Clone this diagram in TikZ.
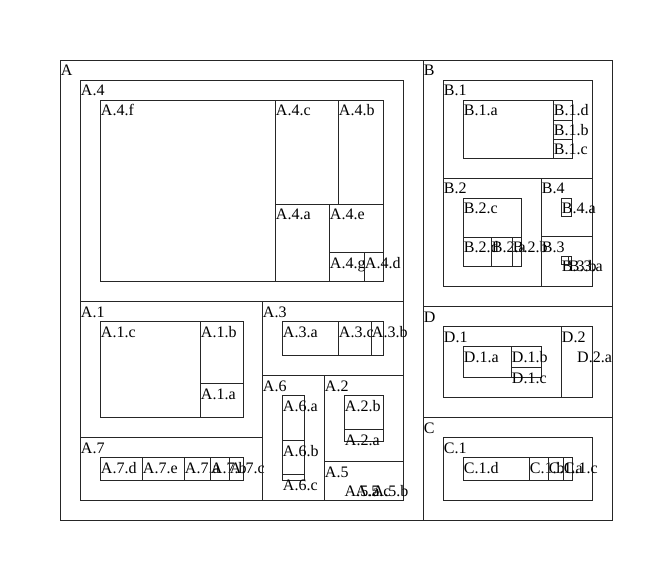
\documentclass[tikz,border=0pt]{standalone}
\usepackage{fontspec}
\setmainfont{Liberation Serif}
\usepackage{tikz}

\begin{document}
\begin{tikzpicture}[
        x=1pt, y=-1pt,
        cell/.style={draw=black!85, line width=0.9pt},
        lbl/.style={anchor=base west, inner sep=0pt, xshift=0.5pt, yshift=-16pt, font=\fontsize{16}{19}\selectfont}
      ]
      \useasboundingbox (0,0) rectangle (672,580);

      % top level
      \draw[cell] (60,60) node[lbl] (A) {A} rectangle (423,520);
      \draw[cell] (423,60) node[lbl] (B) {B} rectangle (612,306);
      \draw[cell] (423,306) node[lbl] (D) {D} rectangle (612,417);
      \draw[cell] (423,417) node[lbl] (C) {C} rectangle (612,520);

      % A.4
      \draw[cell] (80,80) node[lbl] (A4) {A.4} rectangle (403,301);
      \draw[cell] (100,100) node[lbl] (A4f) {A.4.f} rectangle (275,281);
      \draw[cell] (275,100) node[lbl] (A4c) {A.4.c} rectangle (338,204);
      \draw[cell] (338,100) node[lbl] (A4b) {A.4.b} rectangle (383,204);
      \draw[cell] (275,204) node[lbl] (A4a) {A.4.a} rectangle (329,281);
      \draw[cell] (329,204) node[lbl] (A4e) {A.4.e} rectangle (383,252);
      \draw[cell] (329,252) node[lbl] (A4g) {A.4.g} rectangle (364,281);
      \draw[cell] (364,252) node[lbl] (A4d) {A.4.d} rectangle (383,281);

      % A.1 and A.7
      \draw[cell] (80,301) node[lbl] (A1) {A.1} rectangle (262,437);
      \draw[cell] (100,321) node[lbl] (A1c) {A.1.c} rectangle (200,417);
      \draw[cell] (200,321) node[lbl] (A1b) {A.1.b} rectangle (243,383);
      \draw[cell] (200,383) node[lbl] (A1a) {A.1.a} rectangle (243,417);
      \draw[cell] (80,437) node[lbl] (A7) {A.7} rectangle (262,500);
      \draw[cell] (100,457) node[lbl] (A7d) {A.7.d} rectangle (142,480);
      \draw[cell] (142,457) node[lbl] (A7e) {A.7.e} rectangle (184,480);
      \draw[cell] (184,457) node[lbl] (A7a) {A.7.a} rectangle (210,480);
      \draw[cell] (210,457) node[lbl] (A7b) {A.7.b} rectangle (229,480);
      \draw[cell] (229,457) node[lbl] (A7c) {A.7.c} rectangle (243,480);

      % A.3, A.6, A.2, A.5
      \draw[cell] (262,301) node[lbl] (A3) {A.3} rectangle (403,375);
      \draw[cell] (282,321) node[lbl] (A3a) {A.3.a} rectangle (338,355);
      \draw[cell] (338,321) node[lbl] (A3c) {A.3.c} rectangle (371,355);
      \draw[cell] (371,321) node[lbl] (A3b) {A.3.b} rectangle (383,355);
      \draw[cell] (262,375) node[lbl] (A6) {A.6} rectangle (324,500);
      \draw[cell] (282,395) node[lbl] (A6a) {A.6.a} rectangle (304,440);
      \draw[cell] (282,440) node[lbl] (A6b) {A.6.b} rectangle (304,474);
      \draw[cell] (282,474) node[lbl] (A6c) {A.6.c} rectangle (304,480);
      \draw[cell] (324,375) node[lbl] (A2) {A.2} rectangle (403,461);
      \draw[cell] (344,395) node[lbl] (A2b) {A.2.b} rectangle (383,429);
      \draw[cell] (344,429) node[lbl] (A2a) {A.2.a} rectangle (383,441);
      \draw[cell] (324,461) node[lbl] (A5) {A.5} rectangle (403,500);
      \node[lbl] (A5a) at (344,480.5) {A.5.a};
      \node[lbl] (A5c) at (355,480.5) {A.5.c};
      \node[lbl] (A5b) at (372,480.5) {A.5.b};

      % B
      \draw[cell] (443,80) node[lbl] (B1) {B.1} rectangle (592,178);
      \draw[cell] (463,100) node[lbl] (B1a) {B.1.a} rectangle (553,158);
      \draw[cell] (553,100) node[lbl] (B1d) {B.1.d} rectangle (572,120);
      \draw[cell] (553,120) node[lbl] (B1b) {B.1.b} rectangle (572,139);
      \draw[cell] (553,139) node[lbl] (B1c) {B.1.c} rectangle (572,158);
      \draw[cell] (443,178) node[lbl] (B2) {B.2} rectangle (541,286);
      \draw[cell] (463,198) node[lbl] (B2c) {B.2.c} rectangle (521,237);
      \draw[cell] (463,237) node[lbl] (B2d) {B.2.d} rectangle (491,266);
      \draw[cell] (491,237) node[lbl] (B2a) {B.2.a} rectangle (512,266);
      \draw[cell] (512,237) node[lbl] (B2b) {B.2.b} rectangle (521,266);
      \draw[cell] (541,178) node[lbl] (B4) {B.4} rectangle (592,236);
      \draw[cell] (561,198) node[lbl] (B4a) {B.4.a} rectangle (571,216);
      \draw[cell] (541,236) node[lbl] (B3) {B.3} rectangle (592,286);
      \draw[cell] (561,256) node[lbl] (B3b) {B.3.b} rectangle (568,264);
      \draw[cell] (568,256) node[lbl] (B3a) {B.3.a} rectangle (571,264);

      % D
      \draw[cell] (443,326) node[lbl] (D1) {D.1} rectangle (561,397);
      \draw[cell] (463,346) node[lbl] (D1a) {D.1.a} rectangle (511,377);
      \draw[cell] (511,346) node[lbl] (D1b) {D.1.b} rectangle (541,367);
      \draw[cell] (511,367) node[lbl] (D1c) {D.1.c} rectangle (541,377);
      \draw[cell] (561,326) node[lbl] (D2) {D.2} rectangle (592,397);
      \node[lbl] (D2a) at (576.5,346) {D.2.a};

      % C
      \draw[cell] (443,437) node[lbl] (C1) {C.1} rectangle (592,500);
      \draw[cell] (463,457) node[lbl] (C1d) {C.1.d} rectangle (529,480);
      \draw[cell] (529,457) node[lbl] (C1b) {C.1.b} rectangle (548,480);
      \draw[cell] (548,457) node[lbl] (C1a) {C.1.a} rectangle (563,480);
      \draw[cell] (563,457) node[lbl] (C1c) {C.1.c} rectangle (572,480);
    \end{tikzpicture}
\end{document}
